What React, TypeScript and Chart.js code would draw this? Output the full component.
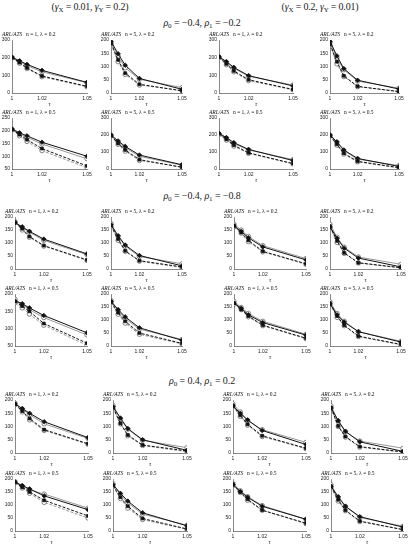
import React, { useEffect, useRef } from 'react';
import { Chart, registerables } from 'chart.js';

Chart.register(...registerables);

// ---------- data ----------
const TAU = [1, 1.005, 1.01, 1.02, 1.05];
const X_TICKS = [1, 1.02, 1.05];
const X_TICK_LABELS = ['1', '1.02', '1.05'];

const HEADER_GAMMA_X = ['0.01', '0.2'];
const HEADER_GAMMA_Y = ['0.2', '0.01'];
const SECTION_RHO0 = ['−0.4', '−0.4', '0.4'];
const SECTION_RHO1 = ['−0.2', '−0.8', '0.2'];
const COL_N = [1, 5, 1, 5];
const ROW_LAMBDA = ['0.2', '0.5'];

// series order in each panel: [solid filled, solid open, dashed filled, dashed open]
// Section 1: rho0=-0.4, rho1=-0.2
const S1_R0_C0 = [[203, 182, 162, 128, 60], [200, 178, 155, 120, 58], [200, 172, 142, 96, 38], [198, 168, 138, 92, 35]];
const S1_R0_C1 = [[195, 148, 105, 55, 14], [190, 140, 95, 52, 20], [188, 125, 75, 33, 8], [185, 118, 70, 30, 10]];
const S1_R0_C2 = [[205, 178, 145, 98, 40], [200, 172, 140, 95, 45], [205, 165, 125, 75, 20], [200, 160, 120, 70, 18]];
const S1_R0_C3 = [[195, 140, 92, 48, 15], [190, 132, 88, 45, 18], [185, 118, 65, 25, 5], [180, 110, 62, 24, 6]];
const S1_R1_C0 = [[207, 192, 180, 155, 100], [205, 188, 174, 148, 90], [205, 185, 165, 130, 62], [203, 180, 158, 122, 55]];
const S1_R1_C1 = [[200, 165, 133, 82, 25], [198, 158, 125, 75, 22], [197, 150, 112, 55, 10], [195, 145, 105, 50, 12]];
const S1_R1_C2 = [[210, 185, 155, 115, 50], [205, 180, 150, 112, 55], [208, 175, 140, 95, 32], [203, 170, 135, 92, 30]];
const S1_R1_C3 = [[200, 160, 112, 62, 15], [198, 155, 108, 58, 20], [197, 145, 92, 45, 8], [195, 140, 88, 42, 6]];
// Section 2: rho0=-0.4, rho1=-0.8
const S2_R0_C0 = [[178, 162, 145, 115, 58], [182, 160, 142, 110, 55], [180, 155, 125, 90, 35], [178, 150, 122, 88, 33]];
const S2_R0_C1 = [[170, 128, 92, 52, 12], [175, 125, 88, 48, 20], [168, 115, 70, 32, 8], [165, 110, 68, 30, 5]];
const S2_R0_C2 = [[165, 145, 120, 85, 35], [172, 150, 125, 90, 40], [168, 140, 110, 68, 20], [162, 138, 105, 66, 18]];
const S2_R0_C3 = [[162, 118, 80, 42, 8], [172, 122, 84, 46, 18], [165, 108, 62, 24, 5], [160, 102, 60, 23, 4]];
const S2_R1_C0 = [[180, 172, 160, 138, 88], [185, 170, 155, 132, 82], [178, 165, 150, 115, 58], [175, 160, 142, 110, 52]];
const S2_R1_C1 = [[172, 140, 112, 70, 22], [175, 135, 105, 65, 25], [170, 128, 95, 50, 10], [168, 122, 88, 45, 8]];
const S2_R1_C2 = [[165, 145, 120, 90, 42], [172, 148, 125, 95, 45], [165, 140, 115, 80, 30], [160, 140, 112, 78, 28]];
const S2_R1_C3 = [[162, 120, 92, 55, 15], [170, 125, 95, 55, 18], [165, 115, 80, 38, 6], [160, 110, 78, 36, 5]];
// Section 3: rho0=0.4, rho1=0.2
const S3_R0_C0 = [[185, 168, 150, 118, 58], [188, 165, 145, 110, 55], [185, 158, 130, 88, 35], [182, 155, 125, 85, 33]];
const S3_R0_C1 = [[175, 132, 92, 50, 10], [180, 128, 90, 48, 20], [172, 112, 68, 30, 8], [170, 110, 65, 28, 5]];
const S3_R0_C2 = [[178, 150, 125, 85, 32], [185, 155, 122, 88, 40], [180, 142, 108, 65, 18], [175, 138, 105, 62, 16]];
const S3_R0_C3 = [[170, 122, 82, 42, 6], [178, 120, 80, 45, 18], [172, 102, 62, 24, 4], [168, 100, 60, 22, 3]];
const S3_R1_C0 = [[188, 175, 162, 135, 82], [190, 172, 158, 142, 88], [188, 168, 150, 118, 58], [185, 165, 145, 110, 50]];
const S3_R1_C1 = [[178, 145, 115, 70, 20], [182, 140, 108, 65, 22], [175, 130, 95, 48, 8], [172, 125, 88, 44, 6]];
const S3_R1_C2 = [[178, 152, 130, 95, 45], [182, 155, 132, 98, 45], [180, 150, 122, 80, 30], [175, 148, 118, 80, 28]];
const S3_R1_C3 = [[172, 132, 95, 55, 15], [178, 128, 95, 52, 18], [172, 120, 80, 38, 5], [168, 115, 78, 36, 6]];

const SERIES = [
  [[S1_R0_C0, S1_R0_C1, S1_R0_C2, S1_R0_C3], [S1_R1_C0, S1_R1_C1, S1_R1_C2, S1_R1_C3]],
  [[S2_R0_C0, S2_R0_C1, S2_R0_C2, S2_R0_C3], [S2_R1_C0, S2_R1_C1, S2_R1_C2, S2_R1_C3]],
  [[S3_R0_C0, S3_R0_C1, S3_R0_C2, S3_R0_C3], [S3_R1_C0, S3_R1_C1, S3_R1_C2, S3_R1_C3]],
];

// y axis [min, max, step]
const Y_AXES = [
  [[[0, 300, 100], [0, 200, 50], [0, 300, 100], [0, 200, 50]], [[50, 250, 50], [0, 300, 100], [0, 300, 100], [0, 300, 100]]],
  [[[0, 200, 50], [0, 200, 50], [0, 200, 50], [0, 200, 50]], [[50, 200, 50], [0, 200, 50], [0, 200, 50], [0, 200, 50]]],
  [[[0, 200, 50], [0, 200, 50], [0, 200, 50], [0, 200, 50]], [[0, 200, 50], [0, 200, 50], [0, 200, 50], [0, 200, 50]]],
];

// ---------- layout ----------
const COLS = [
  [[12, 87], [111, 182], [219, 293], [330, 399]],
  [[15, 87], [111, 182], [234, 306], [330, 401]],
  [[15, 88], [113, 187], [233, 306], [331, 403]],
];
const ROWS = [
  [[39, 93], [117, 169]],
  [[216, 269], [293, 346]],
  [[399, 453], [478, 531]],
];
const SECTION_Y = [23, 196, 381];

const YW = 16;
const XH = 15;
const PT = 4;
const PR = 8;

const SERIF = '"Liberation Serif", "DejaVu Serif", serif';
const SANS = '"Liberation Sans", "DejaVu Sans", sans-serif';

const STYLES = [
  { borderColor: '#111', backgroundColor: '#111', borderWidth: 1, pointStyle: 'rectRot', pointRadius: 2.3, pointBorderColor: '#111', pointBackgroundColor: '#111', pointBorderWidth: 0.7 },
  { borderColor: '#999', backgroundColor: '#fff', borderWidth: 1, pointStyle: 'circle', pointRadius: 2.2, pointBorderColor: '#666', pointBackgroundColor: '#fff', pointBorderWidth: 0.8 },
  { borderColor: '#111', backgroundColor: '#111', borderWidth: 1, borderDash: [3, 1.5], pointStyle: 'rect', pointRadius: 2, pointBorderColor: '#111', pointBackgroundColor: '#111', pointBorderWidth: 0.7 },
  { borderColor: '#999', backgroundColor: '#fff', borderWidth: 1, borderDash: [3, 1.5], pointStyle: 'circle', pointRadius: 2.2, pointBorderColor: '#666', pointBackgroundColor: '#fff', pointBorderWidth: 0.8 },
];

type PanelProps = {
  x0: number; x1: number; y0: number; y1: number;
  series: number[][]; yAxis: number[]; n: number; lambda: string;
};

function Panel({ x0, x1, y0, y1, series, yAxis, n, lambda }: PanelProps) {
  const ref = useRef<HTMLCanvasElement>(null);
  const w = YW + (x1 - x0) + PR;
  const h = PT + (y1 - y0) + XH;

  useEffect(() => {
    const [ymin, ymax, ystep] = yAxis;
    // black series first so they are drawn on top of the gray ones
    const datasets = [0, 2, 1, 3].map((i) => ({
      data: TAU.map((t, j) => ({ x: t, y: series[i][j] })),
      ...STYLES[i],
      fill: false,
      tension: 0,
    }));
    const chart = new Chart(ref.current as HTMLCanvasElement, {
      type: 'line',
      data: { datasets: datasets as any },
      options: {
        animation: false,
        responsive: false,
        events: [],
        layout: { padding: { top: PT, right: PR, left: 0, bottom: 0 } },
        plugins: { legend: { display: false }, tooltip: { enabled: false }, title: { display: false } },
        scales: {
          x: {
            type: 'linear',
            min: 1,
            max: 1.05,
            afterBuildTicks: (s: any) => { s.ticks = X_TICKS.map((v) => ({ value: v })); },
            afterFit: (s: any) => { s.height = XH; },
            grid: { display: false, drawTicks: false },
            border: { display: true, color: '#555', width: 0.7 },
            ticks: {
              font: { size: 5, family: SANS },
              color: '#222',
              padding: 3,
              maxRotation: 0,
              autoSkip: false,
              callback: (v: any) => {
                const k = X_TICKS.indexOf(Number(v));
                return k >= 0 ? X_TICK_LABELS[k] : '';
              },
            },
            title: { display: true, text: 'τ', font: { size: 6, family: SERIF, style: 'italic' }, color: '#222', padding: 0 },
          },
          y: {
            type: 'linear',
            min: ymin,
            max: ymax,
            afterFit: (s: any) => { s.width = YW; },
            grid: { display: false, drawTicks: false },
            border: { display: true, color: '#555', width: 0.7 },
            ticks: { stepSize: ystep, font: { size: 5, family: SANS }, color: '#222', padding: 2 },
          },
        },
      } as any,
    });
    return () => chart.destroy();
  }, []);

  return (
    <>
      <canvas
        ref={ref}
        width={w}
        height={h}
        style={{ position: 'absolute', left: x0 - YW, top: y0 - PT, width: w, height: h }}
      />
      <div
        style={{
          position: 'absolute', left: x0 - 10, top: y0 - 8, fontFamily: SERIF, fontSize: 11,
          lineHeight: '11px', whiteSpace: 'nowrap', transform: 'scale(0.5)', transformOrigin: '0 0', color: '#111',
        }}
      >
        <i>ARL/ATS</i>
        <span style={{ position: 'absolute', left: 48, top: 0 }}>
          n = {n}, λ = {lambda}
        </span>
      </div>
    </>
  );
}

const subStyle: React.CSSProperties = { fontSize: '0.7em', verticalAlign: '-0.3em' };

export default function App() {
  const panels: React.ReactNode[] = [];
  for (let s = 0; s < 3; s++) {
    for (let r = 0; r < 2; r++) {
      for (let c = 0; c < 4; c++) {
        const [x0, x1] = COLS[s][c];
        const [y0, y1] = ROWS[s][r];
        panels.push(
          <Panel
            key={`${s}-${r}-${c}`}
            x0={x0} x1={x1} y0={y0} y1={y1}
            series={SERIES[s][r][c]}
            yAxis={Y_AXES[s][r][c]}
            n={COL_N[c]}
            lambda={ROW_LAMBDA[r]}
          />
        );
      }
    }
  }
  return (
    <div style={{ position: 'absolute', left: 0, top: 0, width: 412, height: 550, overflow: 'hidden', background: '#fff', fontFamily: SERIF, color: '#222' }}>
      {[90, 320].map((cx, i) => (
        <div key={'h' + i} style={{ position: 'absolute', left: cx, top: 1, transform: 'translateX(-50%)', fontSize: 10, letterSpacing: '-0.2px', lineHeight: '12px', whiteSpace: 'nowrap' }}>
          (<i>γ</i><span style={subStyle}>X</span> = {HEADER_GAMMA_X[i]}, <i>γ</i><span style={subStyle}>Y</span> = {HEADER_GAMMA_Y[i]})
        </div>
      ))}
      {SECTION_Y.map((cy, i) => (
        <div key={'s' + i} style={{ position: 'absolute', left: 202, top: cy - 6, transform: 'translateX(-50%)', fontSize: 10, letterSpacing: '-0.1px', lineHeight: '12px', whiteSpace: 'nowrap' }}>
          <i>ρ</i><span style={subStyle}>0</span> = {SECTION_RHO0[i]}, <i>ρ</i><span style={subStyle}>1</span> = {SECTION_RHO1[i]}
        </div>
      ))}
      {panels}
    </div>
  );
}
